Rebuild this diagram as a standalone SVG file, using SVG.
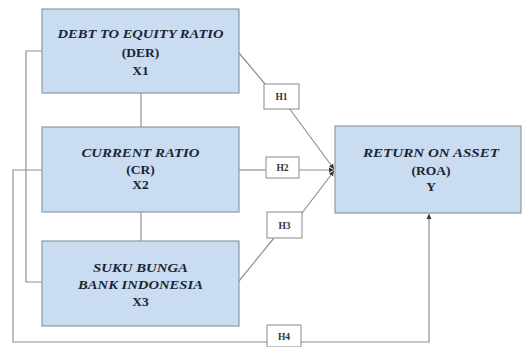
<svg xmlns="http://www.w3.org/2000/svg" width="522" height="347" viewBox="0 0 522 347">
<style>
.box{fill:#c9dcf1;stroke:#8d9aa6;stroke-width:1.2}
.hbox{fill:#ffffff;stroke:#8a8a8a;stroke-width:1}
.ln{fill:none;stroke:#8f8f8f;stroke-width:1.2}
.t{font-family:"Liberation Serif","Times New Roman",serif;font-weight:bold;font-size:13.5px;fill:#1c2433;text-anchor:middle}
.i{font-style:italic}
.h{font-family:"Liberation Serif","Times New Roman",serif;font-weight:bold;font-size:9.5px;fill:#333;text-anchor:middle}
</style>
<defs>
<marker id="ar" markerWidth="6" markerHeight="6" refX="5" refY="3" orient="auto" markerUnits="userSpaceOnUse">
<path d="M0,0.5 L5,3 L0,5.5 Z" fill="#333"/>
</marker>
</defs>
<rect width="522" height="347" fill="#ffffff"/>
<g id="connectors">
<line class="ln" x1="141" y1="93" x2="141" y2="127"/>
<line class="ln" x1="141" y1="212" x2="141" y2="241"/>
<polyline class="ln" points="42,51 26,51 26,282 42,282"/>
<polyline class="ln" points="42,170 13,170 13,342 267,342"/>
<polyline class="ln" points="301,342 429,342 429,214" marker-end="url(#ar)"/>
<line class="ln" x1="239" y1="53" x2="265" y2="84"/>
<line class="ln" x1="289" y1="108" x2="334" y2="169" marker-end="url(#ar)"/>
<line class="ln" x1="239" y1="170" x2="266" y2="170"/>
<line class="ln" x1="299" y1="170" x2="334" y2="170" marker-end="url(#ar)"/>
<line class="ln" x1="239" y1="281" x2="274" y2="238"/>
<line class="ln" x1="302" y1="213" x2="334" y2="171" marker-end="url(#ar)"/>
</g>
<g id="x1">
<rect class="box" x="42" y="9" width="197" height="84"/>
<text class="t i" x="140.5" y="38" textLength="166" lengthAdjust="spacingAndGlyphs">DEBT TO EQUITY RATIO</text>
<text class="t" x="140.5" y="57">(DER)</text>
<text class="t" x="140.5" y="75">X1</text>
</g>
<g id="x2">
<rect class="box" x="42" y="127" width="197" height="85"/>
<text class="t i" x="140.5" y="157" textLength="118" lengthAdjust="spacingAndGlyphs">CURRENT RATIO</text>
<text class="t" x="140.5" y="174">(CR)</text>
<text class="t" x="140.5" y="189">X2</text>
</g>
<g id="x3">
<rect class="box" x="42" y="241" width="197" height="85"/>
<text class="t i" x="140.5" y="272" textLength="95" lengthAdjust="spacingAndGlyphs">SUKU BUNGA</text>
<text class="t i" x="140.5" y="289" textLength="125" lengthAdjust="spacingAndGlyphs">BANK INDONESIA</text>
<text class="t" x="140.5" y="306">X3</text>
</g>
<g id="y">
<rect class="box" x="335" y="126" width="186" height="87"/>
<text class="t i" x="431" y="157" textLength="136" lengthAdjust="spacingAndGlyphs">RETURN ON ASSET</text>
<text class="t" x="431" y="175">(ROA)</text>
<text class="t" x="431" y="191">Y</text>
</g>
<g id="h1">
<rect class="hbox" x="264" y="84" width="35" height="25"/>
<text class="h" x="281.5" y="100">H1</text>
</g>
<g id="h2">
<rect class="hbox" x="266" y="157" width="33" height="21"/>
<text class="h" x="282.5" y="171">H2</text>
</g>
<g id="h3">
<rect class="hbox" x="267" y="212" width="35" height="26"/>
<text class="h" x="284.5" y="228.5">H3</text>
</g>
<g id="h4">
<rect class="hbox" x="267" y="325" width="34" height="22"/>
<text class="h" x="284" y="339.5">H4</text>
</g>
</svg>
